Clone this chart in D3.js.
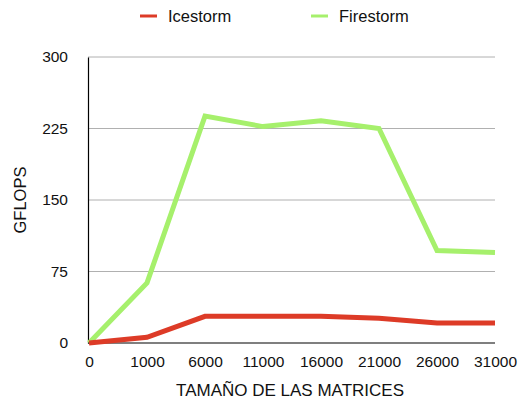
<!DOCTYPE html>
<html>
<head>
<meta charset="utf-8">
<script src="https://cdn.jsdelivr.net/npm/d3@7"></script>
<style>
  html, body { margin: 0; padding: 0; background: #fff; }
  svg { display: block; font-family: "Liberation Sans", Arial, sans-serif; }
</style>
</head>
<body>
<svg id="chart" width="520" height="400"></svg>
<script>
const sizes = ['0', '1000', '6000', '11000', '16000', '21000', '26000', '31000'];
const icestorm = [0, 6, 28, 28, 28, 26, 21, 21];
const firestorm = [0, 63, 238, 227, 233, 225, 97, 95];
const yTicks = [0, 75, 150, 225, 300];

const width = 520, height = 400;
const margin = { top: 57, right: 25, bottom: 57, left: 88 };

const svg = d3.select('#chart');

const x = d3.scalePoint()
  .domain(sizes)
  .range([margin.left + 1, width - margin.right]);

const y = d3.scaleLinear()
  .domain([0, 300])
  .range([height - margin.bottom, margin.top]);

// grid lines
svg.append('g')
  .selectAll('line')
  .data(yTicks.slice(1))
  .join('line')
  .attr('x1', margin.left)
  .attr('x2', width - margin.right)
  .attr('y1', d => y(d))
  .attr('y2', d => y(d))
  .attr('stroke', '#b0b0b0')
  .attr('stroke-width', 1);

// y axis
const yAxis = d3.axisLeft(y).tickValues(yTicks).tickSize(0).tickPadding(20);
const gy = svg.append('g')
  .attr('transform', `translate(${margin.left},0)`)
  .call(yAxis);
gy.select('.domain').attr('stroke', '#000').attr('stroke-width', 1.2);
gy.selectAll('text').attr('font-size', 15.5).attr('fill', '#111')
  .attr('font-family', '"Liberation Sans", Arial, sans-serif');

// x axis
const xAxis = d3.axisBottom(x).tickSize(0).tickPadding(13);
const gx = svg.append('g')
  .attr('transform', `translate(0,${y(0)})`)
  .call(xAxis);
gx.select('.domain').attr('d', `M${margin.left},0H${width - margin.right}`)
  .attr('stroke', '#000').attr('stroke-width', 1.2);
gx.selectAll('text').attr('font-size', 15.5).attr('fill', '#111')
  .attr('font-family', '"Liberation Sans", Arial, sans-serif');

// lines
const line = d3.line()
  .x((d, i) => x(sizes[i]))
  .y(d => y(d));

const series = [
  { name: 'Icestorm', values: icestorm, color: '#dd3b27' },
  { name: 'Firestorm', values: firestorm, color: '#a6f06c' }
];

// firestorm drawn first so icestorm sits on top near zero
[series[1], series[0]].forEach(s => {
  svg.append('path')
    .datum(s.values)
    .attr('fill', 'none')
    .attr('stroke', s.color)
    .attr('stroke-width', 5)
    .attr('stroke-linejoin', 'miter')
    .attr('d', line);
});

// legend
const legendX = [140, 311];
const legend = svg.append('g');
series.forEach((s, i) => {
  legend.append('line')
    .attr('x1', legendX[i]).attr('x2', legendX[i] + 17)
    .attr('y1', 16).attr('y2', 16)
    .attr('stroke', s.color).attr('stroke-width', 3);
  legend.append('text')
    .attr('x', legendX[i] + 28).attr('y', 22)
    .attr('font-size', 16.5).attr('fill', '#111')
    .text(s.name);
});

// axis titles
svg.append('text')
  .attr('x', 290).attr('y', 396)
  .attr('text-anchor', 'middle')
  .attr('font-size', 17).attr('fill', '#111')
  .text('TAMAÑO DE LAS MATRICES');

svg.append('text')
  .attr('transform', `translate(26,200) rotate(-90)`)
  .attr('text-anchor', 'middle')
  .attr('font-size', 16.5).attr('fill', '#111')
  .text('GFLOPS');
</script>
</body>
</html>
